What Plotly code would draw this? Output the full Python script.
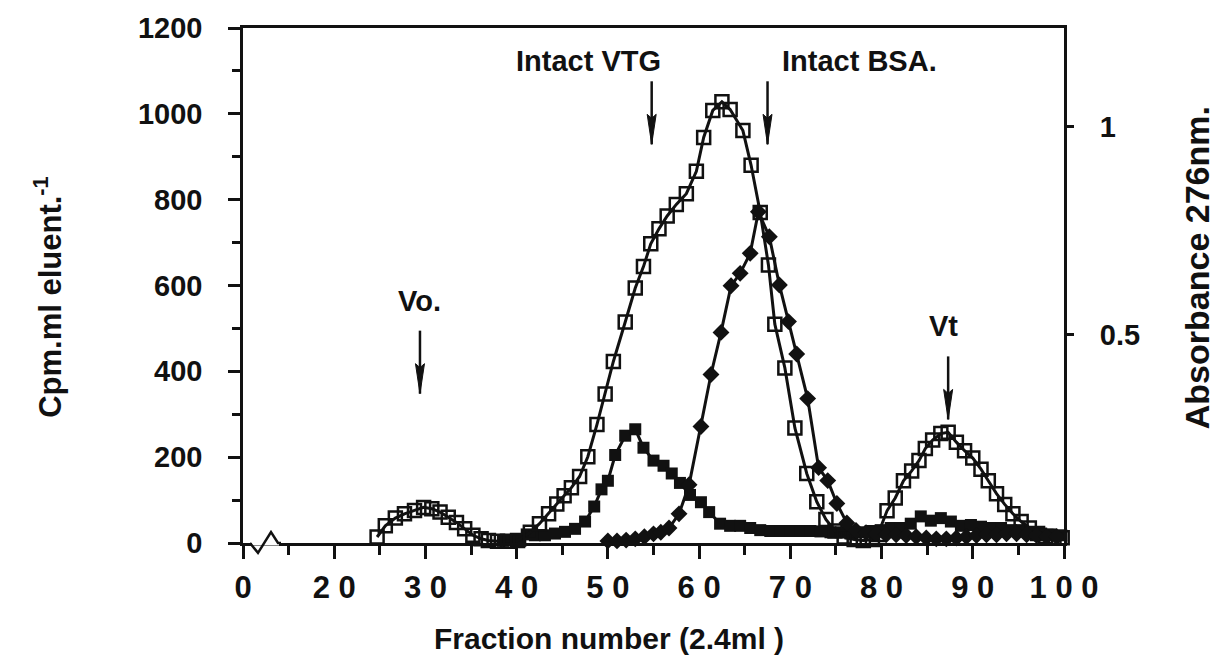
import plotly.graph_objects as go

# ---------------- data ----------------
# Open squares: total radioactivity (cpm per ml eluent)
open_x = [24.7, 25.6, 26.7, 27.7, 28.8, 29.8, 30.7, 31.6, 32.5, 33.4, 34.3, 35.2, 36.1, 36.9,
          37.9, 39.0, 40.1, 41.5, 42.5, 43.5, 44.4, 45.2, 46.0, 46.9, 47.8, 48.8, 49.7, 50.6,
          51.9, 53.0, 53.9, 54.7, 55.6, 56.5, 57.5, 58.6, 59.7, 60.5, 61.5, 62.5, 63.4, 64.8,
          65.7, 66.7, 67.6, 68.3, 69.4, 70.5, 71.8, 72.9, 73.9, 74.9, 75.9, 77.0, 78.0, 79.0,
          79.6, 80.6, 81.5, 82.4, 83.3, 84.1, 84.8, 85.6, 86.5, 87.3, 88.2, 89.1, 90.0, 90.9,
          91.7, 92.6, 93.5, 94.4, 95.3, 96.2, 97.1, 98.0, 98.9, 99.8]
open_y = [14, 40, 58, 68, 76, 83, 80, 72, 60, 48, 33, 18, 10, 6,
          4, 4, 6, 25, 45, 68, 91, 110, 129, 155, 201, 276, 347, 423,
          515, 594, 644, 697, 732, 762, 789, 814, 866, 945, 1008, 1028, 1010, 961,
          880, 770, 648, 510, 408, 268, 162, 96, 55, 28, 14, 8, 6, 8,
          20, 75, 105, 145, 168, 192, 220, 240, 255, 258, 235, 215, 198, 172,
          145, 115, 90, 68, 50, 35, 22, 15, 12, 12]

# Filled squares: second radioactivity profile (cpm per ml eluent)
filled_x = [38.5, 39.3, 40.4, 41.1, 42.0, 43.1, 44.2, 45.3, 46.4, 47.5, 48.5, 49.3, 50.0,
            50.8, 51.9, 53.0, 53.9, 55.0, 56.1, 57.0, 57.9, 59.0, 60.2, 61.1, 62.3, 63.4,
            64.5, 65.6, 66.7, 67.8, 68.9, 70.0, 71.1, 72.2, 73.3, 74.4, 75.5, 76.6, 77.7,
            78.8, 79.9, 81.0, 82.1, 83.2, 84.3, 85.4, 86.5, 87.6, 88.7, 89.8, 90.9, 92.0,
            93.1, 94.2, 95.3, 96.4, 97.5, 98.6, 99.7]
filled_y = [5, 7, 5, 20, 18, 18, 22, 26, 33, 50, 85, 125, 145,
            205, 250, 265, 222, 192, 180, 162, 140, 112, 95, 72, 45, 40,
            40, 35, 30, 28, 28, 28, 28, 28, 27, 25, 25, 22, 25,
            28, 30, 35, 35, 45, 62, 52, 58, 50, 40, 42, 38, 35,
            35, 30, 30, 25, 22, 20, 18]

# Filled diamonds: absorbance at 276 nm (right axis)
abs_x = [50.0, 51.0, 52.0, 53.0, 54.0, 55.0, 55.8, 56.7, 57.8, 58.9, 60.2, 61.3, 62.4,
         63.5, 64.5, 65.6, 66.5, 67.7, 68.8, 69.8, 70.7, 71.9, 73.1, 74.1, 75.1, 76.2,
         77.2, 78.3, 79.4, 80.5, 81.6, 82.7, 83.8, 84.9, 86.0, 87.1, 88.2, 89.3, 90.4,
         91.5, 92.6, 93.7, 94.8, 95.9, 97.0, 98.1, 99.2]
abs_y = [0.005, 0.005, 0.007, 0.010, 0.015, 0.022, 0.026, 0.036, 0.070, 0.140, 0.280, 0.405, 0.506,
         0.618, 0.648, 0.696, 0.796, 0.736, 0.620, 0.532, 0.454, 0.347, 0.181, 0.150, 0.095, 0.048,
         0.030, 0.025, 0.022, 0.020, 0.020, 0.018, 0.015, 0.012, 0.010, 0.010, 0.012, 0.015, 0.018,
         0.020, 0.020, 0.022, 0.022, 0.020, 0.018, 0.015, 0.015]

# x ticks (the axis is broken between 0 and 15)
x_tickvals = [10, 20, 30, 40, 50, 60, 70, 80, 90, 100]
x_ticktext = ["0", "2\u00a00", "3\u00a00", "4\u00a00", "5\u00a00", "6\u00a00",
              "7\u00a00", "8\u00a00", "9\u00a00", "1\u00a00\u00a00"]
x_minor = [15, 25, 35, 45, 55, 65, 75, 85, 95]
y_tickvals = [0, 200, 400, 600, 800, 1000, 1200]
y_minor = [100, 300, 500, 700, 900, 1100]
y2_tickvals = [0.5, 1]
y2_ticktext = ["0.5", "1"]

# marker labels: (text, fraction, arrow tip in cpm, label height in cpm, label fraction)
markers = [
    ("Vo.", 29.4, 348, 565, 29.4),
    ("Intact VTG", 54.8, 929, 1124, 47.9),
    ("Intact BSA.", 67.5, 929, 1124, 77.6),
    ("Vt", 87.3, 288, 505, 86.8),
]

# ---------------- styling ----------------
INK = "#111111"
FONT = "Liberation Sans, Arial, Helvetica, sans-serif"

L, R, T, B = 243, 163, 22, 123
W, H = 1227, 666
PW = W - L - R
PH = H - T - B


def paper_x(px):
    return (px - L) / PW


def paper_y(py):
    return (H - B - py) / PH


def paper_path(points, close=False):
    parts = []
    for i, (px, py) in enumerate(points):
        parts.append(("M" if i == 0 else "L") + f" {paper_x(px):.5f},{paper_y(py):.5f}")
    return " ".join(parts) + (" Z" if close else "")


fig = go.Figure()

fig.add_trace(go.Scatter(
    x=filled_x, y=filled_y, mode="lines+markers",
    line=dict(color=INK, width=3),
    marker=dict(symbol="square", size=12, color=INK),
    cliponaxis=False, showlegend=False,
))
fig.add_trace(go.Scatter(
    x=abs_x, y=abs_y, mode="lines+markers", yaxis="y2",
    line=dict(color=INK, width=3),
    marker=dict(symbol="diamond", size=13, color=INK),
    cliponaxis=False, showlegend=False,
))
fig.add_trace(go.Scatter(
    x=open_x, y=open_y, mode="lines+markers",
    line=dict(color=INK, width=3),
    marker=dict(symbol="square-open", size=13, color=INK, line=dict(width=2.5, color=INK)),
    cliponaxis=False, showlegend=False,
))

shapes = []
annotations = []

# axis break on the x axis: blank the axis line, then draw the zigzag
shapes.append(dict(
    type="path", xref="paper", yref="paper",
    path=paper_path([(252, 543), (279, 543)]),
    line=dict(color="white", width=5), layer="above",
))
shapes.append(dict(
    type="path", xref="paper", yref="paper",
    path=paper_path([(250, 543), (258, 553), (271, 532), (278, 543), (281, 543)]),
    line=dict(color=INK, width=2.5), layer="above",
))

# labelled arrows
for text, fx, tip, ty, tx in markers:
    shapes.append(dict(
        type="path", xref="x", yref="y", xsizemode="pixel", ysizemode="pixel",
        xanchor=fx, yanchor=tip, path="M 0,0 L 0,63",
        line=dict(color=INK, width=2.5),
    ))
    shapes.append(dict(
        type="path", xref="x", yref="y", xsizemode="pixel", ysizemode="pixel",
        xanchor=fx, yanchor=tip, path="M 0,0 L -4.5,30 L 0,26 L 4.5,30 Z",
        fillcolor=INK, line=dict(color=INK, width=1),
    ))
    annotations.append(dict(
        x=tx, y=ty, xref="x", yref="y", text=text, showarrow=False,
        font=dict(family=FONT, size=29, color=INK, weight="bold"),
        xanchor="center", yanchor="middle",
    ))

# axis titles
annotations.append(dict(
    x=paper_x(609), y=paper_y(640), xref="paper", yref="paper",
    text="Fraction number (2.4ml )", showarrow=False,
    font=dict(family=FONT, size=30, color=INK, weight="bold"),
    xanchor="center", yanchor="middle",
))
annotations.append(dict(
    x=paper_x(48), y=paper_y(294), xref="paper", yref="paper",
    text="Cpm.ml eluent.<sup>-1</sup>", showarrow=False, textangle=-90,
    font=dict(family=FONT, size=31, color=INK, weight="bold"),
    xanchor="center", yanchor="middle",
))
annotations.append(dict(
    x=paper_x(1197), y=paper_y(265), xref="paper", yref="paper",
    text="Absorbance 276nm.", showarrow=False, textangle=-90,
    font=dict(family=FONT, size=34, color=INK, weight="bold"),
    xanchor="center", yanchor="middle",
))

tickfont = dict(family=FONT, size=29, color=INK, weight="bold")

fig.update_layout(
    width=W, height=H,
    margin=dict(l=L, r=R, t=T, b=B, pad=0),
    paper_bgcolor="white", plot_bgcolor="white",
    shapes=shapes, annotations=annotations,
    xaxis=dict(
        range=[10, 100], showgrid=False, zeroline=False,
        showline=True, linecolor=INK, linewidth=2.5, mirror=True,
        tickmode="array", tickvals=x_tickvals, ticktext=x_ticktext,
        ticks="outside", ticklen=13, tickwidth=2.5, tickcolor=INK,
        minor=dict(tickvals=x_minor, ticks="outside", ticklen=9, tickwidth=2.5, tickcolor=INK),
        tickfont=dict(family=FONT, size=31, color=INK, weight="bold"),
        ticklabelstandoff=2,
    ),
    yaxis=dict(
        range=[0, 1200], showgrid=False, zeroline=False,
        showline=True, linecolor=INK, linewidth=2.5, mirror=True,
        tickmode="array", tickvals=y_tickvals,
        ticks="outside", ticklen=12, tickwidth=2.5, tickcolor=INK,
        minor=dict(tickvals=y_minor, ticks="outside", ticklen=8, tickwidth=2.5, tickcolor=INK),
        tickfont=tickfont, ticklabelstandoff=20,
    ),
    yaxis2=dict(
        range=[0, 1.2375], overlaying="y", side="right",
        showgrid=False, zeroline=False, showline=False,
        tickmode="array", tickvals=y2_tickvals, ticktext=y2_ticktext,
        ticks="outside", ticklen=9, tickwidth=2.5, tickcolor=INK,
        tickfont=tickfont, ticklabelstandoff=20,
    ),
)

fig.write_html("out.html")
